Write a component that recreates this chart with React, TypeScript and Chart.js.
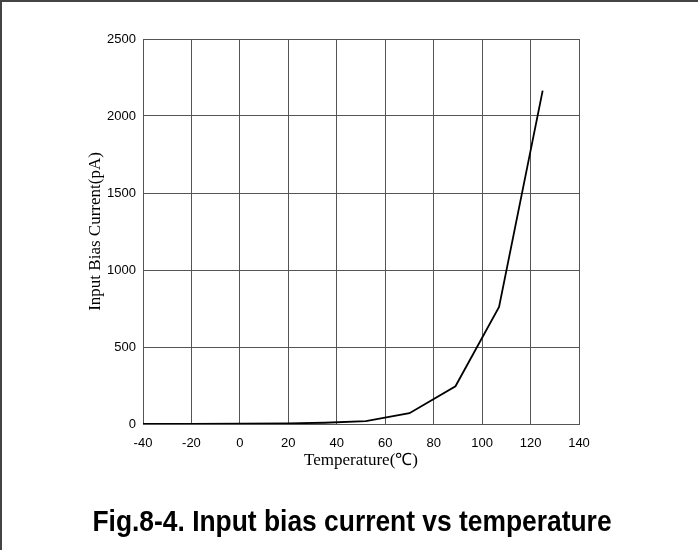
import React, { useEffect, useRef } from "react";
import { Chart, registerables } from "chart.js";

Chart.register(...registerables);

// Data
const temperatures = [-40, -20, 0, 20, 35, 52, 70, 89, 107, 125];
const biasCurrentPA = [1, 1, 2, 4, 8, 18, 70, 245, 760, 2165];

const xRange = { min: -40, max: 140, step: 20 };
const yRange = { min: 0, max: 2500, step: 500 };

const FIG_TITLE = "Fig.8-4. Input bias current vs temperature";
const X_TITLE = "Temperature(℃)";
const Y_TITLE = "Input Bias Current(pA)";

const framePlugin = {
  id: "frameAndCaption",
  beforeDraw(chart: any) {
    const ctx = chart.ctx;
    ctx.save();
    ctx.fillStyle = "#ffffff";
    ctx.fillRect(0, 0, chart.width, chart.height);
    ctx.restore();
  },
  afterDraw(chart: any) {
    const ctx = chart.ctx;
    ctx.save();
    ctx.fillStyle = "#444444";
    ctx.fillRect(0, 0, chart.width, 2);
    ctx.fillRect(0, 0, 2, chart.height);
    ctx.fillStyle = "#000000";
    ctx.font = 'bold 29px "Liberation Sans", Arial, sans-serif';
    ctx.textAlign = "center";
    ctx.textBaseline = "alphabetic";
    ctx.translate(352, 531);
    ctx.scale(0.91, 1);
    ctx.fillText(FIG_TITLE, 0, 0);
    ctx.restore();
  },
};

export default function App() {
  const canvasRef = useRef<HTMLCanvasElement | null>(null);

  useEffect(() => {
    if (!canvasRef.current) return;
    const points = temperatures.map((t, i) => ({ x: t, y: biasCurrentPA[i] }));
    const gridColor = "#555555";
    const tickFont = { family: '"Liberation Sans", Arial, sans-serif', size: 13 };
    const chart = new Chart(canvasRef.current, {
      type: "line",
      data: {
        datasets: [
          {
            data: points,
            borderColor: "#000000",
            borderWidth: 1.8,
            pointRadius: 0,
            tension: 0,
            fill: false,
          },
        ],
      },
      options: {
        responsive: false,
        animation: false,
        events: [],
        layout: { padding: { left: 0, top: 39, right: 119, bottom: 0 } },
        plugins: {
          legend: { display: false },
          tooltip: { enabled: false },
          title: { display: false },
        },
        scales: {
          x: {
            type: "linear",
            min: xRange.min,
            max: xRange.max,
            ticks: {
              stepSize: xRange.step,
              color: "#000",
              maxRotation: 0,
              padding: 12,
              font: tickFont,
              callback: (v: any) => String(v),
            },
            grid: { color: gridColor, lineWidth: 1, drawTicks: false },
            border: { color: gridColor, width: 1 },
            title: {
              display: true,
              text: X_TITLE,
              color: "#000",
              font: { family: '"Liberation Serif", "Times New Roman", serif', size: 17 },
              padding: { top: 0, bottom: 79 },
            },
            afterFit: (s: any) => {
              s.height = 126;
            },
          },
          y: {
            type: "linear",
            min: yRange.min,
            max: yRange.max,
            ticks: {
              stepSize: yRange.step,
              color: "#000",
              padding: 7,
              font: tickFont,
              callback: (v: any) => String(v),
            },
            grid: { color: gridColor, lineWidth: 1, drawTicks: false },
            border: { color: gridColor, width: 1 },
            title: {
              display: true,
              text: Y_TITLE,
              color: "#000",
              font: { family: '"Liberation Serif", "Times New Roman", serif', size: 17 },
              padding: { top: 85, bottom: 0 },
            },
            afterFit: (s: any) => {
              s.width = 143;
            },
          },
        },
      },
      plugins: [framePlugin],
    });
    return () => chart.destroy();
  }, []);

  return (
    <div style={{ position: "fixed", left: 0, top: 0, width: 698, height: 550, background: "#fff" }}>
      <canvas ref={canvasRef} width={698} height={550} style={{ display: "block" }} />
    </div>
  );
}
